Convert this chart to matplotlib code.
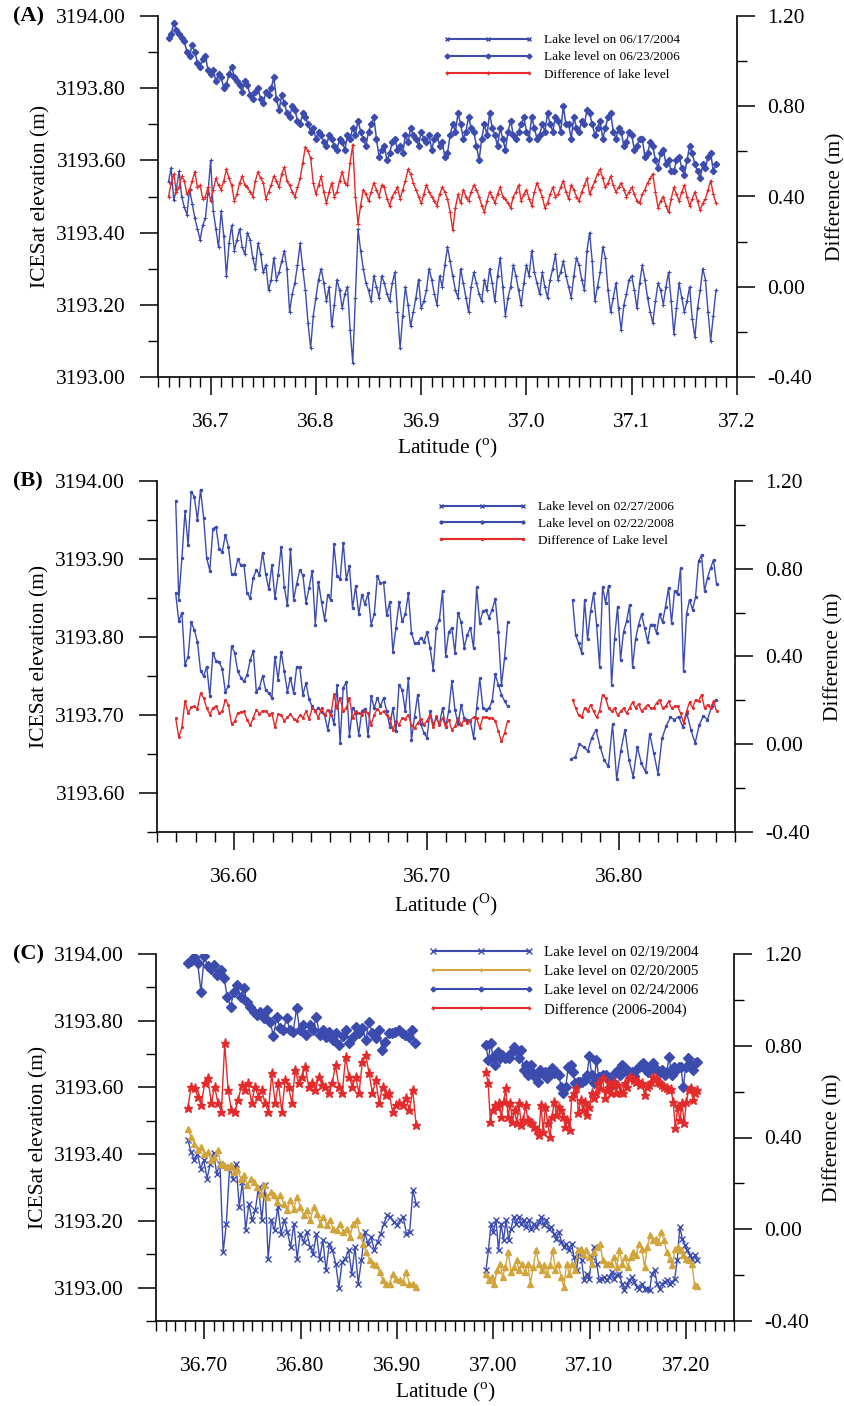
import numpy as np
import matplotlib.pyplot as plt
from matplotlib.lines import Line2D
from matplotlib.ticker import MultipleLocator, FuncFormatter

plt.rcParams['font.family'] = 'Liberation Serif'
plt.rcParams['mathtext.fontset'] = 'custom'
plt.rcParams['mathtext.rm'] = 'Liberation Serif'

BLUE = '#3b4cae'
RED = '#e32b2b'
GOLD = '#d2a43c'

# ---------------- data (elevations in cm above 3193 m, differences in cm) ----------------
# panel A : 36.660 -> 37.180
a_lat_range = (36.660, 37.180)
a_2006 = [94, 95, 98, 96, 95, 94, 93, 90, 89, 92, 90, 87, 86, 88, 89, 85, 84, 85, 82, 84,
          83, 80, 81, 84, 86, 83, 82, 81, 79, 82, 81, 78, 77, 79, 80, 77, 76, 79, 78, 80,
          83, 77, 74, 78, 76, 73, 72, 75, 74, 71, 70, 73, 72, 70, 68, 69, 66, 68, 67, 65,
          64, 67, 66, 64, 63, 66, 65, 63, 67, 66, 69, 67, 71, 68, 66, 64, 68, 70, 72, 66,
          61, 63, 64, 60, 62, 65, 66, 63, 64, 62, 67, 65, 69, 67, 66, 64, 68, 66, 65, 67,
          63, 66, 67, 64, 65, 61, 62, 67, 70, 68, 73, 70, 66, 68, 72, 69, 68, 64, 60, 66,
          70, 67, 73, 69, 67, 64, 69, 66, 63, 68, 71, 67, 66, 68, 70, 72, 68, 66, 72, 69,
          66, 67, 70, 68, 73, 70, 68, 72, 71, 68, 75, 70, 70, 66, 72, 69, 68, 71, 70, 74,
          73, 70, 67, 69, 71, 66, 69, 72, 73, 68, 66, 69, 68, 64, 65, 68, 67, 63, 64, 66,
          66, 61, 62, 65, 64, 60, 58, 62, 63, 59, 60, 57, 57, 60, 61, 58, 56, 60, 64, 62,
          59, 57, 55, 59, 58, 61, 62, 57, 59]
a_2004 = [54, 58, 49, 52, 57, 50, 47, 45, 52, 48, 44, 41, 38, 42, 44, 51, 60, 46, 41, 36,
          46, 39, 28, 37, 42, 35, 38, 41, 36, 34, 40, 38, 33, 30, 37, 34, 29, 31, 24, 27,
          33, 27, 29, 32, 35, 30, 18, 23, 26, 31, 37, 30, 24, 15, 8, 17, 22, 27, 30, 26,
          21, 25, 14, 20, 27, 24, 19, 23, 25, 13, 4, 22, 41, 35, 30, 26, 24, 21, 28, 25,
          22, 28, 26, 23, 21, 26, 29, 18, 8, 17, 25, 20, 14, 18, 22, 27, 19, 21, 24, 30,
          27, 23, 20, 28, 25, 31, 36, 32, 28, 24, 22, 30, 26, 22, 18, 25, 29, 26, 23, 21,
          27, 24, 30, 26, 21, 28, 33, 25, 17, 22, 25, 31, 28, 24, 20, 26, 31, 28, 35, 29,
          26, 23, 29, 25, 22, 27, 30, 34, 27, 29, 32, 28, 25, 22, 28, 33, 31, 27, 24, 35,
          40, 32, 21, 25, 29, 36, 33, 24, 18, 22, 26, 19, 13, 20, 23, 27, 28, 24, 19, 26,
          31, 27, 22, 18, 15, 21, 26, 24, 20, 25, 29, 21, 12, 19, 26, 22, 18, 21, 25, 16,
          11, 19, 24, 30, 27, 18, 10, 17, 24]
a_diff = [40, 46, 50, 42, 44, 49, 47, 41, 43, 47, 51, 44, 45, 39, 40, 44, 38, 43, 48, 45,
          43, 47, 52, 48, 45, 38, 41, 46, 49, 45, 44, 42, 40, 47, 51, 48, 46, 39, 42, 45,
          49, 47, 44, 50, 53, 47, 45, 42, 40, 44, 48, 55, 62, 60, 57, 46, 41, 45, 49, 42,
          37, 42, 46, 40, 42, 47, 51, 46, 45, 55, 63, 40, 28, 36, 43, 41, 38, 42, 46, 43,
          40, 45, 44, 39, 36, 40, 42, 44, 39, 43, 47, 52, 50, 46, 43, 40, 37, 41, 45, 42,
          40, 38, 36, 41, 44, 42, 39, 33, 25, 35, 41, 37, 43, 40, 38, 42, 45, 43, 40, 36,
          33, 38, 42, 40, 37, 41, 44, 40, 39, 37, 35, 40, 42, 45, 38, 41, 43, 39, 36, 42,
          46, 43, 40, 35, 37, 41, 44, 40, 41, 44, 47, 42, 39, 45, 43, 40, 38, 42, 45, 48,
          41, 44, 47, 50, 52, 48, 44, 46, 49, 45, 42, 44, 46, 43, 40, 42, 44, 41, 38, 37,
          41, 43, 46, 48, 50, 42, 35, 38, 40, 36, 33, 39, 44, 41, 38, 42, 45, 40, 36, 39,
          42, 38, 34, 37, 39, 43, 47, 41, 37]

# panel B : two segments
b_left_range = (36.5697, 36.7420)
b_right_range = (36.7757, 36.8504)
b_low_right_range = (36.775, 36.850)
b_2008_left = [97.4, 84.8, 90.1, 96.1, 91.8, 98.6, 98.0, 95.0, 98.9, 95.3,
               90.1, 88.5, 93.9, 94.1, 91.3, 90.9, 93.1, 91.6, 88.1, 88.1,
               90.0, 89.2, 89.2, 85.6, 85.0, 87.6, 88.6, 88.0, 90.8, 88.1,
               86.1, 89.2, 85.0, 87.9, 91.6, 86.4, 84.1, 91.3, 84.8, 86.8,
               88.6, 87.9, 84.4, 86.3, 88.5, 81.6, 87.1, 84.5, 82.2, 85.4,
               84.7, 91.9, 87.8, 87.4, 92.1, 87.4, 89.1, 83.7, 86.5, 82.9,
               85.4, 84.2, 85.6, 81.6, 82.9, 87.8, 86.9, 87.0, 82.8, 84.5,
               78.1, 81.2, 84.5, 82.0, 82.9, 85.6, 80.5, 79.2, 79.2, 79.9,
               79.4, 80.6, 78.6, 75.8, 81.2, 82.2, 85.9, 77.6, 80.6, 81.2,
               78.0, 83.1, 81.9, 78.6, 80.3, 81.2, 78.6, 86.4, 81.8, 83.3,
               83.4, 82.5, 83.5, 84.9, 80.6, 73.8, 77.3, 81.9]
b_2006_left = [85.6, 82.0, 83.1, 76.4, 77.5, 81.9, 80.9, 79.4, 75.7, 75.0,
               76.2, 72.4, 78.0, 76.9, 76.8, 75.9, 73.0, 73.7, 78.8, 78.0,
               75.6, 74.8, 74.3, 75.1, 77.0, 78.2, 73.0, 73.5, 75.0, 73.2,
               72.8, 72.2, 77.5, 74.5, 78.1, 75.6, 73.0, 74.8, 72.8, 76.2,
               76.1, 72.6, 74.1, 72.0, 71.1, 70.5, 70.9, 70.4, 70.0, 68.1,
               70.5, 68.8, 73.8, 66.4, 73.5, 74.2, 67.3, 70.9, 70.3, 67.5,
               70.5, 70.8, 67.3, 72.4, 70.9, 72.2, 71.1, 72.2, 70.5, 68.5,
               70.9, 67.9, 73.9, 73.2, 70.5, 74.7, 66.8, 69.8, 72.6, 68.8,
               67.7, 67.1, 70.5, 68.8, 69.6, 68.8, 70.9, 68.5, 70.5, 74.3,
               70.7, 68.8, 71.3, 69.6, 69.4, 69.2, 67.1, 70.9, 74.7, 70.9,
               70.7, 70.9, 71.8, 75.2, 73.9, 72.6, 71.8, 71.1]
b_diff_left = [11.9, 3.1, 7.7, 19.8, 14.2, 16.8, 17.3, 16.2, 23.3, 21.1,
               16.5, 13.5, 16.5, 17.3, 14.2, 15.0, 20.3, 18.0, 9.2, 10.4,
               14.2, 14.7, 15.0, 11.2, 8.6, 12.0, 15.8, 13.8, 15.3, 15.0,
               13.5, 14.2, 7.7, 13.8, 13.2, 10.7, 12.2, 13.8, 11.6, 10.7,
               13.2, 12.0, 15.0, 11.6, 16.5, 15.3, 12.0, 16.5, 13.2, 15.8,
               13.2, 22.8, 16.5, 21.1, 15.0, 16.5, 21.1, 12.0, 15.0, 14.2,
               13.5, 15.0, 14.2, 8.9, 13.5, 16.2, 14.2, 15.0, 13.2, 12.0,
               6.6, 10.4, 8.9, 12.0, 11.6, 13.5, 8.6, 7.4, 9.7, 11.6,
               8.9, 10.7, 13.5, 7.7, 12.7, 8.9, 12.0, 8.1, 11.2, 6.6,
               8.1, 12.0, 8.9, 11.2, 9.7, 11.2, 12.2, 12.0, 7.4, 12.2,
               12.2, 12.0, 12.0, 10.7, 5.9, 1.3, 5.1, 10.7]
b_2008_right = [84.7, 80.3, 79.2, 78.0, 84.7, 79.7, 83.3, 85.6, 81.6, 76.2,
                86.4, 84.4, 86.6, 73.9, 79.8, 83.9, 77.1, 80.7, 82.0, 84.1,
                76.2, 79.7, 81.6, 82.9, 81.2, 79.4, 81.6, 81.6, 80.5, 82.9,
                81.9, 83.9, 86.3, 81.8, 85.9, 85.5, 88.8, 75.6, 82.9, 84.8,
                83.5, 85.1, 89.7, 90.5, 85.9, 87.6, 88.8, 89.9, 86.8]
b_2006_right = [64.4, 64.6, 66.3, 65.9, 65.4, 67.1, 68.1, 65.9, 64.2, 63.4,
                68.8, 61.8, 65.4, 68.1, 64.2, 62.1, 65.9, 63.8, 62.7, 67.6,
                65.1, 62.5, 67.0, 68.6, 69.7, 69.4, 69.8, 68.5, 70.2, 68.1,
                66.4, 68.7, 69.9, 69.4, 71.1, 71.9]
b_diff_right = [20.3, 16.5, 13.2, 12.2, 16.5, 15.0, 18.0, 15.0, 12.2, 15.3,
                22.6, 21.1, 16.5, 15.0, 16.5, 13.2, 15.0, 16.5, 14.2, 16.5,
                19.2, 16.5, 18.3, 15.0, 16.5, 18.0, 16.5, 16.5, 18.8, 20.3,
                16.5, 17.3, 19.5, 16.5, 17.3, 17.3, 14.2, 9.7, 15.0, 19.2,
                16.5, 20.3, 19.5, 22.6, 16.5, 18.0, 16.5, 19.8, 15.0]

# panel C : two segments
c_2006_left_range = (36.683, 36.919)
c_left_range = (36.683, 36.920)
c_right_range = (36.9925, 37.212)
c_2006_left = [97.4, 98.0, 99.0, 97.2, 88.7, 99.4, 96.4, 95.4, 96.7, 93.7,
               95.2, 92.7, 87.2, 84.2, 88.7, 90.7, 87.2, 89.7, 85.7, 84.2,
               82.7, 81.7, 82.7, 80.7, 83.2, 79.7, 75.4, 81.0, 77.7, 77.2,
               80.7, 77.2, 76.7, 83.7, 77.2, 78.7, 75.7, 78.7, 77.2, 81.2,
               75.7, 77.2, 75.2, 76.7, 74.2, 76.2, 72.7, 75.4, 77.2, 73.2,
               75.2, 78.2, 76.2, 77.7, 74.2, 79.7, 76.2, 74.7, 77.2, 71.2,
               73.7, 76.2, 76.2, 76.7, 77.2, 76.2, 75.7, 75.2, 77.2, 73.2]
c_diff_left = [52.7, 62.2, 61.4, 57.8, 54.2, 63.6, 65.8, 54.9, 62.2, 54.9,
               51.2, 81.0, 60.7, 52.0, 51.2, 56.3, 62.9, 60.7, 63.6, 54.9,
               62.2, 57.8, 60.7, 54.9, 51.2, 68.0, 54.9, 63.6, 51.2, 65.1,
               62.2, 54.9, 69.4, 63.6, 66.5, 70.9, 62.2, 63.6, 60.7, 66.5,
               62.9, 62.2, 59.2, 63.6, 71.6, 62.2, 59.2, 75.2, 66.5, 62.2,
               66.5, 59.2, 73.1, 76.0, 68.0, 59.2, 65.1, 54.9, 62.2, 58.5,
               59.2, 51.2, 54.2, 54.9, 54.2, 57.1, 52.0, 60.7, 45.4]
c_2004_left = [44.4, 40.7, 38.2, 40.0, 35.7, 38.2, 32.7, 37.2, 40.4, 34.2,
               37.2, 10.7, 19.2, 36.2, 32.7, 37.2, 24.2, 31.7, 17.2, 25.2,
               20.2, 23.2, 30.2, 20.2, 30.8, 8.7, 20.2, 17.2, 24.2, 16.2,
               20.2, 16.7, 12.2, 19.2, 8.7, 16.2, 13.7, 16.7, 12.2, 10.2,
               16.2, 8.7, 14.2, 5.2, 13.2, 11.2, 7.2, 0.0, 7.7, 8.7,
               11.2, 4.2, 12.2, 1.2, 8.2, 16.7, 13.2, 15.2, 11.2, 13.7,
               16.2, 19.2, 21.7, 21.2, 19.7, 18.7, 20.2, 21.2, 16.2, 16.7,
               29.2, 25.2]
c_2005_left = [47.4, 45.2, 43.2, 41.2, 42.2, 40.2, 40.7, 38.2, 39.2, 41.2,
               37.2, 36.7, 36.2, 36.7, 34.7, 35.7, 32.7, 33.7, 30.8, 32.7,
               31.7, 30.2, 28.2, 30.8, 27.2, 28.7, 27.7, 25.7, 27.7, 25.2,
               23.2, 26.2, 23.7, 27.2, 24.2, 21.7, 23.2, 20.2, 24.2, 22.2,
               19.2, 21.2, 18.7, 20.2, 17.7, 17.2, 19.2, 16.7, 17.7, 15.2,
               19.2, 20.2, 15.7, 13.2, 10.7, 8.2, 7.2, 6.7, 4.7, 2.2,
               1.2, 1.2, 4.2, 2.7, 2.2, 1.7, 4.7, 1.2, 1.2, 0.2]
c_2006_right = [72.7, 68.2, 73.2, 69.2, 66.7, 70.7, 68.7, 69.7, 68.7, 69.2,
                68.7, 70.7, 72.2, 71.2, 68.7, 71.2, 65.2, 66.7, 63.7, 66.7,
                64.2, 63.2, 61.7, 65.2, 64.2, 64.7, 62.7, 63.7, 65.7, 64.2,
                64.7, 63.7, 60.2, 58.2, 60.2, 66.2, 66.7, 64.7, 61.2, 61.7,
                61.7, 61.7, 62.2, 63.7, 69.4, 63.7, 61.2, 68.2, 63.2, 63.2,
                63.7, 63.7, 62.7, 60.2, 61.7, 64.2, 65.2, 63.7, 66.7, 65.7,
                65.2, 64.4, 64.7, 63.4, 65.2, 66.2, 66.7, 67.2, 65.2, 64.7,
                66.2, 67.2, 65.7, 65.2, 64.7, 65.2, 63.7, 64.7, 69.2, 63.7,
                66.0, 65.2, 66.2, 66.2, 60.0, 66.2, 68.7, 66.7, 65.2, 67.2,
                67.7]
c_diff_right = [68.7, 63.6, 46.9, 52.0, 54.2, 53.5, 54.9, 49.1, 55.6, 61.4,
                49.1, 54.9, 46.9, 52.0, 46.2, 54.9, 45.5, 47.6, 54.2, 47.6,
                46.9, 46.2, 44.7, 43.3, 41.1, 54.2, 42.6, 53.5, 46.2, 40.4,
                49.1, 55.6, 49.8, 53.5, 52.0, 49.1, 44.7, 47.6, 43.3, 57.8,
                59.3, 61.4, 50.5, 56.4, 52.0, 55.6, 49.8, 53.5, 59.3, 57.1,
                59.3, 63.6, 61.4, 65.8, 57.1, 60.7, 63.6, 59.3, 64.3, 59.3,
                62.9, 60.0, 59.3, 63.6, 62.2, 65.8, 66.5, 65.1, 64.3, 64.8,
                62.9, 63.6, 58.5, 62.2, 62.9, 64.3, 66.5, 65.8, 64.3, 63.6,
                62.9, 62.2, 61.4, 60.7, 61.0, 55.6, 44.0, 53.5, 47.6, 54.9,
                46.2, 55.6, 60.7, 61.4, 56.4, 59.3, 60.7]
c_2004_right = [5.2, 11.2, 19.2, 16.7, 20.2, 11.2, 19.2, 14.2, 20.2, 14.2,
                17.7, 21.2, 19.2, 21.2, 19.2, 20.2, 18.2, 20.2, 17.7, 19.2,
                18.2, 19.7, 21.2, 18.7, 20.2, 17.7, 18.2, 16.2, 14.7, 16.7,
                13.7, 12.2, 13.2, 11.2, 13.2, 9.2, 5.2, 11.2, 8.2, 2.2,
                4.2, 2.7, 9.2, 12.2, 7.2, 2.2, 2.7, 3.2, 2.2, 3.2,
                4.7, 2.7, 3.7, 4.2, 1.2, -0.8, 0.7, 2.2, 3.2, 1.7,
                0.2, -0.3, 1.2, -0.3, -0.3, -0.8, 4.2, 5.2, 1.2, -0.3,
                1.2, 1.7, 2.2, 1.2, 1.7, 2.7, 8.4, 18.2, 14.7, 12.7,
                11.2, 9.7, 8.7, 9.7, 8.2]
c_2005_right = [4.2, 2.2, 3.2, 1.2, 5.2, 7.2, 3.2, 6.2, 10.7, 4.7,
                6.2, 8.2, 5.2, 7.2, 4.7, 7.2, 1.2, 6.2, 11.2, 7.2,
                5.2, 6.7, 4.2, 6.7, 11.2, 5.2, 7.2, 3.2, 0.2, 7.2,
                4.2, 7.2, 5.2, 11.2, 11.7, 10.2, 11.2, 9.2, 7.2, 10.7,
                12.2, 13.2, 8.2, 7.2, 7.2, 7.2, 9.2, 6.2, 11.2, 7.2,
                9.2, 6.2, 9.2, 10.7, 9.7, 13.2, 11.7, 6.2, 12.2, 15.7,
                14.2, 14.7, 13.7, 16.7, 14.2, 10.7, 8.7, 6.7, 11.7, 12.2,
                11.2, 9.7, 8.7, 8.2, 7.2, 0.7, 0.4]

W, H = 844, 1406
fig = plt.figure(figsize=(W / 100, H / 100), dpi=100)


def lat(rng, vals):
    return np.linspace(rng[0], rng[1], len(vals))


def elev(vals):
    return 3193 + np.array(vals) / 100.0


def diff(vals):
    return np.array(vals) / 100.0


def fmt2(v, p):
    if abs(v) < 1e-9:
        v = 0.0
    return '%.2f' % v


def make_panel(l, r, t, b, xlim, ylim, ymaj, ymin, xfmt, xlab, tag):
    ax = fig.add_axes([l / W, 1 - b / H, (r - l) / W, (b - t) / H])
    ax2 = ax.twinx()
    ax.set_xlim(xlim)
    ax.set_ylim(ylim)
    ax2.set_ylim(-0.4, 1.2)
    for s in ['top', 'right']:
        ax.spines[s].set_visible(False)
    for s in ['top', 'left', 'bottom']:
        ax2.spines[s].set_visible(False)
    for s in ax.spines.values():
        s.set_linewidth(1.2)
    ax2.spines['right'].set_linewidth(1.2)
    ax.xaxis.set_major_locator(MultipleLocator(0.1))
    ax.xaxis.set_minor_locator(MultipleLocator(0.01))
    ax.xaxis.set_major_formatter(FuncFormatter(lambda v, p: xfmt % v))
    ax.yaxis.set_major_locator(MultipleLocator(ymaj))
    ax.yaxis.set_minor_locator(MultipleLocator(ymin))
    ax.yaxis.set_major_formatter(FuncFormatter(fmt2))
    ax2.yaxis.set_major_locator(MultipleLocator(0.4))
    ax2.yaxis.set_minor_locator(MultipleLocator(0.2))
    ax2.yaxis.set_major_formatter(FuncFormatter(fmt2))
    for a in (ax, ax2):
        a.tick_params(which='major', direction='out', length=13, width=1.1, labelsize=15.5)
        a.tick_params(which='minor', direction='out', length=7, width=1.0)
    ax.tick_params(axis='x', which='major', pad=13)
    ax.tick_params(axis='y', which='major', pad=10)
    ax2.tick_params(axis='y', which='major', pad=9)
    ax.set_xlabel(xlab, fontsize=15.5, labelpad=3)
    ax.set_ylabel('ICESat elevation (m)', fontsize=15.5, labelpad=4)
    ax2.set_ylabel('Difference (m)', fontsize=15.5, labelpad=10)
    fig.text(13 / W, 1 - t / H, tag, fontsize=16, fontweight='bold', va='center', ha='left')
    return ax, ax2


def add_legend(handles, labels, x, y, fs, hl, htp, ls):
    fig.legend(handles, labels, loc='upper left', bbox_to_anchor=(x / W, 1 - y / H),
               frameon=False, fontsize=fs, handlelength=hl, handletextpad=htp,
               labelspacing=ls, borderpad=0, borderaxespad=0, numpoints=3)


# ---------------- panel A ----------------
ax, ax2 = make_panel(158, 737, 16, 377, (36.65, 37.2), (3193.0, 3194.0), 0.2, 0.1,
                     '%.1f', r'Latitude ($^{\rm o}$)', '(A)')
ax.plot(lat(a_lat_range, a_2004), elev(a_2004), color=BLUE, lw=1.0, marker='+', ms=3, mew=0.8)
ax.plot(lat(a_lat_range, a_2006), elev(a_2006), color=BLUE, lw=1.1, marker='D', ms=3.2)
ax2.plot(lat(a_lat_range, a_diff), diff(a_diff), color=RED, lw=1.0, marker='+', ms=2.5, mew=0.8)
add_legend([Line2D([], [], color=BLUE, lw=1.5, marker='x', ms=3.5),
            Line2D([], [], color=BLUE, lw=1.5, marker='D', ms=2.5),
            Line2D([], [], color=RED, lw=1.5, marker='+', ms=3)],
           ['Lake level on 06/17/2004', 'Lake level on 06/23/2006', 'Difference of lake level'],
           443, 34, 9.5, 6.8, 0.83, 0.38)

# ---------------- panel B ----------------
ax, ax2 = make_panel(157, 735, 481, 832, (36.56, 36.86), (3193.55, 3194.0), 0.1, 0.05,
                     '%.2f', r'Latitude ($^{\rm O}$)', '(B)')
ax.plot(lat(b_left_range, b_2008_left), elev(b_2008_left), color=BLUE, lw=1.0, marker='.', ms=3)
ax.plot(lat(b_right_range, b_2008_right), elev(b_2008_right), color=BLUE, lw=1.0, marker='.', ms=3)
ax.plot(lat(b_left_range, b_2006_left), elev(b_2006_left), color=BLUE, lw=1.0, marker='.', ms=3)
ax.plot(lat(b_low_right_range, b_2006_right), elev(b_2006_right), color=BLUE, lw=1.0, marker='.', ms=3)
ax2.plot(lat(b_left_range, b_diff_left), diff(b_diff_left), color=RED, lw=1.0, marker='.', ms=2.5)
ax2.plot(lat(b_right_range, b_diff_right), diff(b_diff_right), color=RED, lw=1.0, marker='.', ms=2.5)
add_legend([Line2D([], [], color=BLUE, lw=1.5, marker='x', ms=3),
            Line2D([], [], color=BLUE, lw=1.5, marker='.', ms=4),
            Line2D([], [], color=RED, lw=1.5, marker='.', ms=3)],
           ['Lake level on 02/27/2006', 'Lake level on 02/22/2008', 'Difference of Lake level'],
           437, 501, 9.5, 6.8, 0.83, 0.34)

# ---------------- panel C ----------------
ax, ax2 = make_panel(156, 734, 954, 1321, (36.65, 37.25), (3192.9, 3194.0), 0.2, 0.1,
                     '%.2f', r'Latitude ($^{\rm o}$)', '(C)')
ax.plot(lat(c_left_range, c_2004_left), elev(c_2004_left), color=BLUE, lw=1.0, marker='x', ms=5, mew=1.0)
ax.plot(lat(c_right_range, c_2004_right), elev(c_2004_right), color=BLUE, lw=1.0, marker='x', ms=5, mew=1.0)
ax.plot(lat(c_left_range, c_2005_left), elev(c_2005_left), color=GOLD, lw=1.0, marker='^', ms=4.5)
ax.plot(lat(c_right_range, c_2005_right), elev(c_2005_right), color=GOLD, lw=1.0, marker='^', ms=4.5)
ax.plot(lat(c_2006_left_range, c_2006_left), elev(c_2006_left), color=BLUE, lw=1.0, marker='D', ms=5)
ax.plot(lat(c_right_range, c_2006_right), elev(c_2006_right), color=BLUE, lw=1.0, marker='D', ms=5)
ax2.plot(lat(c_left_range, c_diff_left), diff(c_diff_left), color=RED, lw=1.0, marker='*', ms=6.5)
ax2.plot(lat(c_right_range, c_diff_right), diff(c_diff_right), color=RED, lw=1.0, marker='*', ms=6.5)
add_legend([Line2D([], [], color=BLUE, lw=1.5, marker='x', ms=4),
            Line2D([], [], color=GOLD, lw=1.5, marker='+', ms=3),
            Line2D([], [], color=BLUE, lw=1.5, marker='D', ms=2.5),
            Line2D([], [], color=RED, lw=1.5, marker='+', ms=3)],
           ['Lake level on 02/19/2004', 'Lake level on 02/20/2005',
            'Lake level on 02/24/2006', 'Difference (2006-2004)'],
           428, 946, 10.8, 7.0, 0.73, 0.36)

fig.savefig('out.png', dpi=100)
